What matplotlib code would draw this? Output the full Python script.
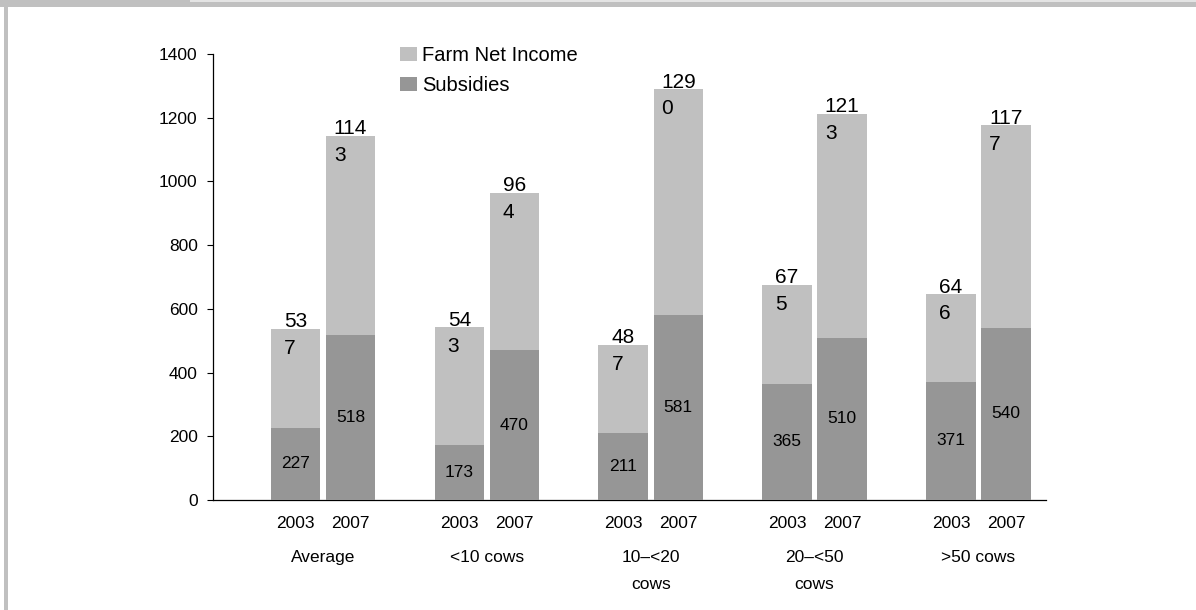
import matplotlib
matplotlib.use("Agg")
import matplotlib.pyplot as plt
from matplotlib.patches import Rectangle
import numpy as np

plt.rcParams['font.family'] = ['Liberation Sans', 'DejaVu Sans']

groups = ['Average', '<10 cows', '10–<20\ncows', '20–<50\ncows', '>50 cows']
years = ['2003', '2007']
fni_2003 = [537, 543, 487, 675, 646]
fni_2007 = [1143, 964, 1290, 1213, 1177]
sub_2003 = [227, 173, 211, 365, 371]
sub_2007 = [518, 470, 581, 510, 540]

c_fni = '#c0c0c0'
c_sub = '#969696'

fig = plt.figure(figsize=(11.96, 6.10), dpi=100)
fig.patch.set_facecolor('white')

# frame decorations
fig.patches.append(Rectangle((0, 1 - 7 / 610), 1, 7 / 610, transform=fig.transFigure,
                             facecolor='#c0c0c0', edgecolor='none', zorder=0))
fig.patches.append(Rectangle((190 / 1196, 1 - 2 / 610), 1, 2 / 610, transform=fig.transFigure,
                             facecolor='#e4e4e4', edgecolor='none', zorder=1))
fig.patches.append(Rectangle((4 / 1196, 0), 4 / 1196, 1, transform=fig.transFigure,
                             facecolor='#c0c0c0', edgecolor='none', zorder=0))

ax = fig.add_axes([213 / 1196, 110 / 610, 833 / 1196, 446 / 610])

x = np.arange(len(groups))
w = 0.302
off = 0.168

for xs, fni, sub in ((x - off, fni_2003, sub_2003), (x + off, fni_2007, sub_2007)):
    ax.bar(xs, fni, width=w, color=c_fni, zorder=2)
    ax.bar(xs, sub, width=w, color=c_sub, zorder=3)
    for xi, f, s in zip(xs, fni, sub):
        st = str(f)
        # va='baseline' aligns the last line; first line sits just above bar top
        ax.annotate(st[:-1] + '\n' + st[-1], (xi, f), xytext=(0, -18), textcoords='offset points',
                    ha='center', va='baseline', multialignment='left', fontsize=15,
                    linespacing=1.5, zorder=5)
        ax.text(xi, s / 2, str(s), ha='center', va='center', fontsize=12.5, zorder=5)

# legend handles
ax.bar([np.nan], [np.nan], color=c_fni, label='Farm Net Income')
ax.bar([np.nan], [np.nan], color=c_sub, label='Subsidies')
leg = ax.legend(loc='upper left', bbox_to_anchor=(400 / 1196, 1 - 46 / 610),
                bbox_transform=fig.transFigure, frameon=False, fontsize=14.5,
                handlelength=0.85, handleheight=0.75, handletextpad=0.25,
                labelspacing=0.55, borderpad=0, borderaxespad=0)

ax.set_xlim(-0.671, 4.412)
ax.set_ylim(0, 1400)
ax.set_yticks(np.arange(0, 1401, 200))
ax.tick_params(axis='y', length=4, width=0.8, pad=7, labelsize=12.5, direction='out')
ax.set_xticks([])
for sp in ('top', 'right'):
    ax.spines[sp].set_visible(False)
for sp in ('left', 'bottom'):
    ax.spines[sp].set_linewidth(0.9)

for i, g in enumerate(groups):
    for xi, yr in ((x[i] - off, years[0]), (x[i] + off, years[1])):
        ax.annotate(yr, (xi, 0), xytext=(0, -20.2), textcoords='offset points',
                    ha='center', va='baseline', fontsize=12.5, annotation_clip=False)
    for k, line in enumerate(g.split('\n')):
        ax.annotate(line, (x[i], 0), xytext=(0, -44.6 - k * 19.8), textcoords='offset points',
                    ha='center', va='baseline', fontsize=12.5, annotation_clip=False)

fig.savefig('out.png', dpi=100)
